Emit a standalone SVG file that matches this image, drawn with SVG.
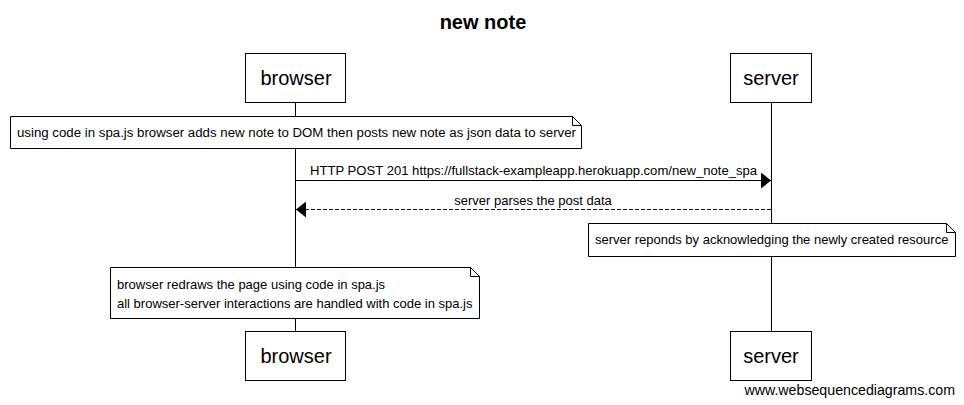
<svg xmlns="http://www.w3.org/2000/svg" width="964" height="405" viewBox="0 0 964 405">
<style>
.box{fill:#fff;stroke:#000;stroke-width:1}
.note{fill:#fff;stroke:#000;stroke-width:1}
.fold{fill:none;stroke:#000;stroke-width:1}
.pt{font-family:"Liberation Sans",Arial,sans-serif;font-size:20px;fill:#000;text-anchor:middle}
.t{font-family:"Liberation Sans",Arial,sans-serif;font-size:13px;fill:#000}
.life{stroke:#000;stroke-width:1}
</style>
<defs>
<marker id="ah" viewBox="0 0 10 16" refX="10" refY="8" markerWidth="10" markerHeight="16" markerUnits="userSpaceOnUse" orient="auto">
<path d="M0,0 L10,8 L0,16 Z" fill="#000"/>
</marker>
</defs>
<rect width="964" height="405" fill="#fff"/>
<text x="483" y="29" font-family="Liberation Sans,Arial,sans-serif" font-size="20" font-weight="bold" text-anchor="middle">new note</text>
<g id="lifelines">
<line class="life" x1="295.5" y1="102" x2="295.5" y2="331"/>
<line class="life" x1="771.5" y1="102" x2="771.5" y2="331"/>
</g>
<g id="browser-top"><rect class="box" x="245.5" y="53.5" width="100" height="49"/><text class="pt" x="296" y="85">browser</text></g>
<g id="server-top"><rect class="box" x="730.5" y="53.5" width="81" height="49"/><text class="pt" x="771" y="85">server</text></g>
<g id="browser-bottom"><rect class="box" x="245.5" y="331.5" width="100" height="49"/><text class="pt" x="296" y="363">browser</text></g>
<g id="server-bottom"><rect class="box" x="730.5" y="331.5" width="81" height="49"/><text class="pt" x="771" y="363">server</text></g>
<g id="note1">
<path class="note" d="M10.5,116.5 H572.5 L581.5,125.5 V148.5 H10.5 Z"/>
<path class="fold" d="M572.5,116.5 V125.5 H581.5"/>
<text class="t" x="17" y="137" style="font-size:13.25px">using code in spa.js browser adds new note to DOM then posts new note as json data to server</text>
</g>
<g id="note2">
<path class="note" d="M588.5,223.5 H946.5 L955.5,232.5 V256.5 H588.5 Z"/>
<path class="fold" d="M946.5,223.5 V232.5 H955.5"/>
<text class="t" x="595" y="244">server reponds by acknowledging the newly created resource</text>
</g>
<g id="note3">
<path class="note" d="M110.5,267.5 H470.5 L479.5,276.5 V318.5 H110.5 Z"/>
<path class="fold" d="M470.5,267.5 V276.5 H479.5"/>
<text class="t" x="117" y="289">browser redraws the page using code in spa.js</text>
<text class="t" x="117" y="308">all browser-server interactions are handled with code in spa.js</text>
</g>
<g id="connectors">
<line x1="295.5" y1="180.5" x2="771" y2="180.5" stroke="#000" stroke-width="1" marker-end="url(#ah)"/>
<text class="t" x="310" y="175" style="font-size:13.1px">HTTP POST 201 https://fullstack-exampleapp.herokuapp.com/new_note_spa</text>
<line x1="771" y1="209.5" x2="296" y2="209.5" stroke="#000" stroke-width="1" stroke-dasharray="4,2" marker-end="url(#ah)"/>
<text class="t" x="533" y="205" text-anchor="middle">server parses the post data</text>
</g>
<text x="955" y="395" font-family="Liberation Sans,Arial,sans-serif" font-size="14.2" text-anchor="end">www.websequencediagrams.com</text>
</svg>
